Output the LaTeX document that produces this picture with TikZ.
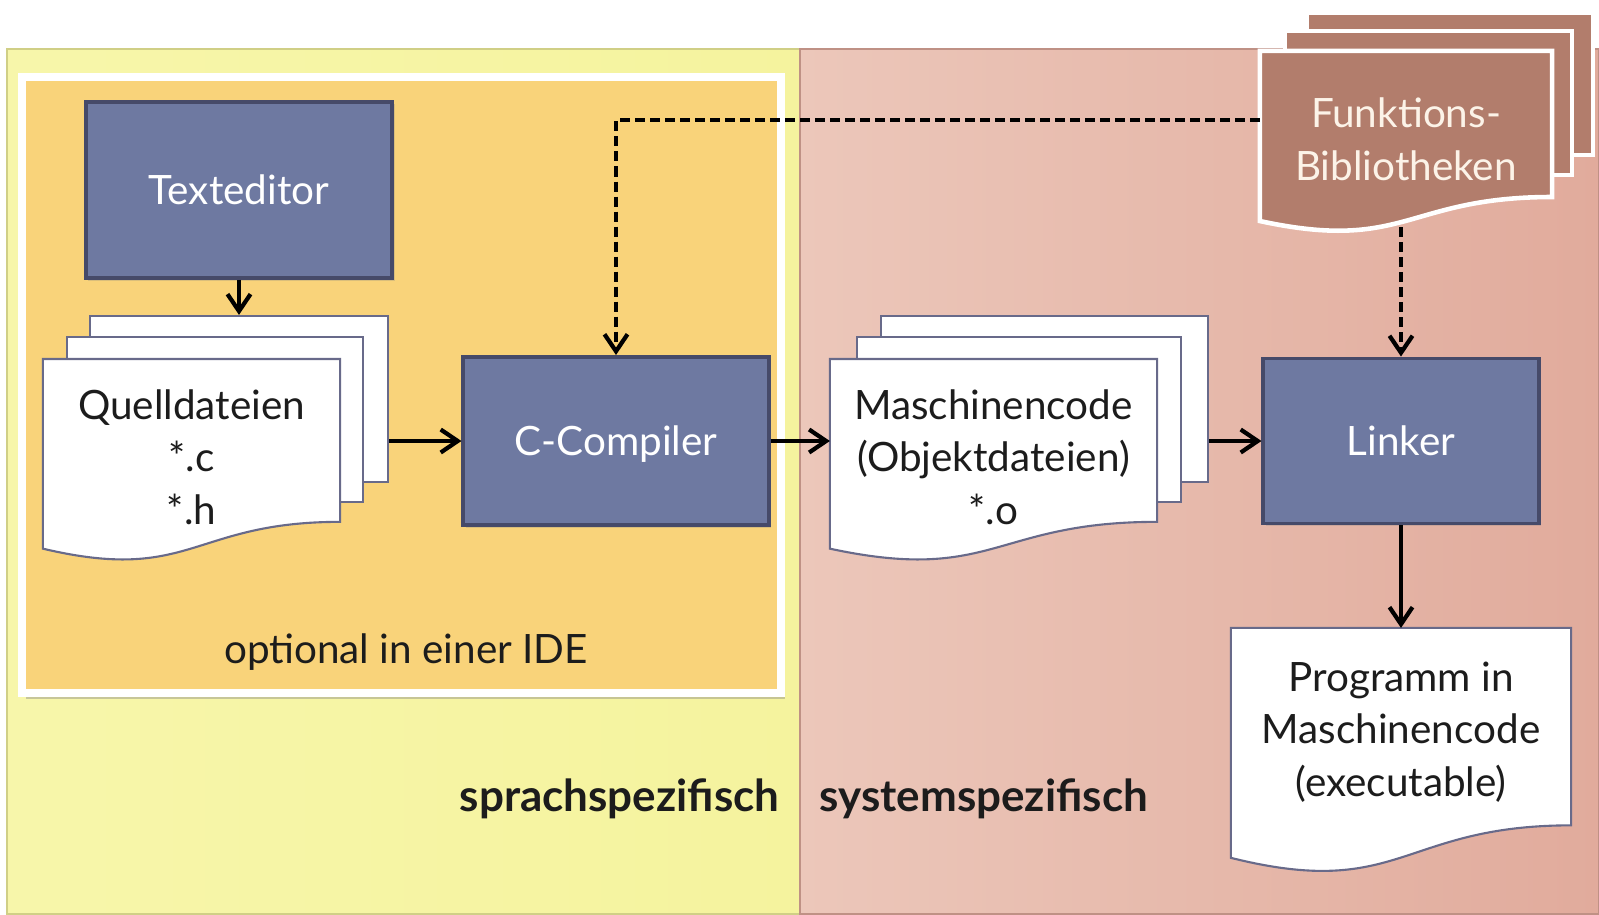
\documentclass[tikz,border=0pt]{standalone}
\usepackage{fontspec}
\setmainfont{Lato}
\usetikzlibrary{arrows.meta,shadows,calc}

\definecolor{panelyellowL}{RGB}{247,246,170}
\definecolor{panelyellowR}{RGB}{245,243,158}
\definecolor{panelpinkL}{RGB}{236,199,186}
\definecolor{panelpinkR}{RGB}{225,171,156}
\definecolor{idefill}{RGB}{249,211,122}
\definecolor{boxblue}{RGB}{110,121,161}
\definecolor{boxline}{RGB}{70,74,105}
\definecolor{pageline}{RGB}{104,106,138}
\definecolor{libbrown}{RGB}{178,125,108}
\definecolor{libtext}{RGB}{252,243,232}
\definecolor{inktext}{RGB}{28,28,28}

% page with a wavy lower edge, drawn on the frame of a node
\newcommand{\wavedoc}[2]{%
  \path[#2] (#1.north west) -- (#1.north east)
    -- ($(#1.north east)!0.802!(#1.south east)$)
    .. controls ($(#1.north)!0.802!(#1.south)$) and ($(#1.north)!1.107!(#1.south)$)
    .. ($(#1.north west)!0.934!(#1.south west)$) -- cycle;}

\begin{document}
\begin{tikzpicture}[x=0.01cm, y=-0.01cm,
  every node/.style={font=\fontsize{11.5}{14.8}\selectfont, text=inktext},
  process/.style={rectangle, fill=boxblue, draw=boxline, line width=1.1pt,
    text=white, text height=8pt, text depth=0pt,
    drop shadow={opacity=0.25, shadow xshift=0.7pt, shadow yshift=-0.7pt}},
  page/.style={rectangle, fill=white, draw=pageline, line width=0.6pt},
  libpage/.style={rectangle, fill=libbrown, draw=white, line width=1.3pt},
  docframe/.style={rectangle, inner sep=0pt, outer sep=0pt},
  doctext/.style={align=center, anchor=base}, % base = last line
  sidelabel/.style={font=\fontsize{12.5}{15}\selectfont\bfseries, inner sep=0pt},
  flow/.style={-{Straight Barb[length=1.7mm,width=2.3mm]}, line width=1.2pt},
  dep/.style={flow, dash pattern=on 1mm off 0.5mm}]

	\useasboundingbox (0,0) rectangle (1599,914);
	\fill[white] (0,0) rectangle (1599,914);

	% the two halves
	\draw[left color=panelyellowL, right color=panelyellowR, draw=panelyellowR!85!black, line width=0.4pt]
		(7,49) rectangle (800,914);
	\draw[left color=panelpinkL, right color=panelpinkR, draw=panelpinkR!85!black, line width=0.4pt]
		(800,49) rectangle (1599,914);

	% IDE frame
	\draw[fill=idefill, draw=white, line width=2.4pt,
		drop shadow={opacity=0.4, shadow xshift=1pt, shadow yshift=-1.8pt}]
		(22,77) rectangle (781,693);
	\node (ide) at (406,663) [anchor=base] {optional in einer IDE};

	% tools
	\node[process, minimum width=3.06cm, minimum height=1.76cm] (editor) at (239,190) {Texteditor};
	\node[process, minimum width=3.05cm, minimum height=1.68cm] (compiler) at (616,441) {C-Compiler};
	\node[process, minimum width=2.75cm, minimum height=1.65cm] (linker) at (1401,441) {Linker};

	% source files
	\node[page, minimum width=2.98cm, minimum height=1.66cm] (quell3) at (239,399) {};
	\node[page, minimum width=2.96cm, minimum height=1.65cm] (quell2) at (215,419.5) {};
	\node[docframe, minimum width=2.97cm, minimum height=2.03cm] (quell) at (191.5,460.5) {};
	\wavedoc{quell}{fill=white, draw=pageline, line width=0.6pt}
	\node[doctext] (quelltext) at (191.5,524) {Quelldateien\\*.c\\*.h};

	% object files
	\node[page, minimum width=3.27cm, minimum height=1.66cm] (masch3) at (1044.5,399) {};
	\node[page, minimum width=3.24cm, minimum height=1.65cm] (masch2) at (1019,419.5) {};
	\node[docframe, minimum width=3.27cm, minimum height=2.03cm] (masch) at (993.5,460.5) {};
	\wavedoc{masch}{fill=white, draw=pageline, line width=0.6pt}
	\node[doctext] (maschtext) at (993.5,524) {Maschinencode\\(Objektdateien)\\*.o};

	% libraries
	\node[libpage, minimum width=2.86cm, minimum height=1.42cm] (lib3) at (1450,84) {};
	\node[libpage, minimum width=2.87cm, minimum height=1.44cm] (lib2) at (1428.5,103) {};
	\node[docframe, minimum width=2.92cm, minimum height=1.82cm] (lib1) at (1406,142) {};
	\wavedoc{lib1}{fill=libbrown, draw=white, line width=1.3pt}
	\node[doctext, text=libtext] (libtext) at (1406,180) {Funktions-\\Bibliotheken};
	\node[docframe, minimum width=3.33cm, minimum height=2.14cm] (lib) at (1426.5,120) {};

	% executable
	\node[docframe, minimum width=3.40cm, minimum height=2.46cm] (prog) at (1401,751) {};
	\wavedoc{prog}{fill=white, draw=pageline, line width=0.6pt}
	\node[doctext] (progtext) at (1401,796) {Programm in\\Maschinencode\\(executable)};

	% connectors
	\draw[flow] (editor.south) -- (quell3.north);
	\draw[flow] (quell3.east |- compiler.west) -- (compiler.west);
	\draw[flow] (compiler.east) -- (compiler.east -| masch.west);
	\draw[flow] (masch3.east |- linker.west) -- (linker.west);
	\draw[flow] (linker.south) -- (prog.north);
	\draw[dep] (lib.west) -| (compiler.north);
	\draw[dep] (lib.south -| linker.north) -- (linker.north);

	\node[sidelabel] (lang) at (780,811) [anchor=base east] {sprachspezifisch};
	\node[sidelabel] (sys) at (819,811) [anchor=base west] {systemspezifisch};

\end{tikzpicture}
\end{document}
